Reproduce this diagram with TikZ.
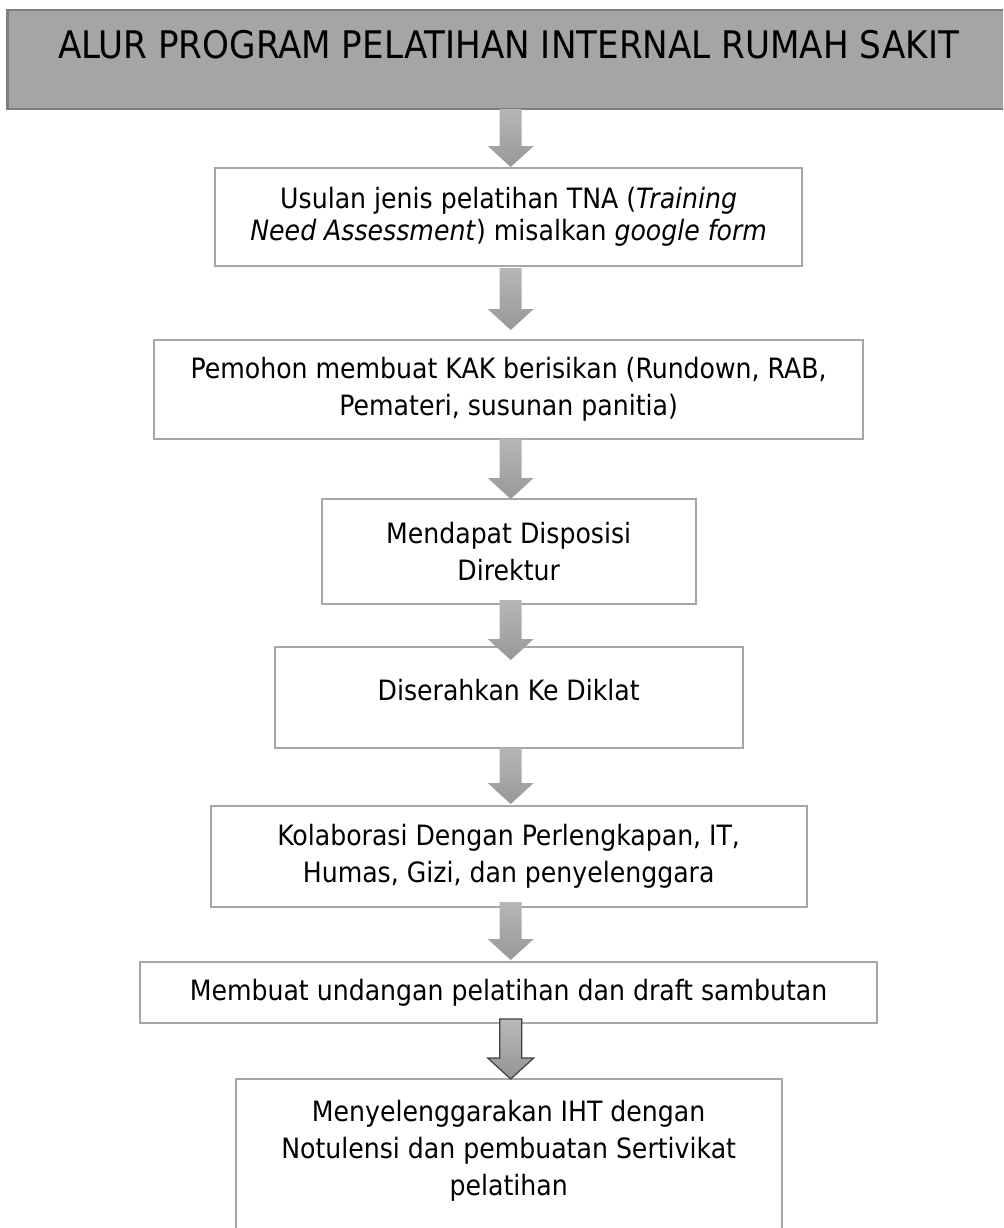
\documentclass[tikz,border=0pt]{standalone}
\usepackage{fontspec}
\setmainfont{DejaVu Sans Condensed}
\usetikzlibrary{positioning,calc}

\definecolor{boxgray}{RGB}{166,166,166}
\definecolor{titlefill}{RGB}{165,165,165}
\definecolor{titleline}{RGB}{127,127,127}
\definecolor{arrtop}{RGB}{182,182,182}
\definecolor{arrbot}{RGB}{152,152,152}
\definecolor{darkline}{RGB}{64,64,64}

\tikzstyle{stepbox} = [rectangle, draw=boxgray, line width=1pt, align=center, inner sep=0pt, outer sep=0pt, font=\fontsize{14}{18.5}\selectfont]
\tikzstyle{titlebox} = [rectangle, fill=titlefill, draw=titleline, line width=1.25pt, inner sep=0pt, outer sep=0pt, font=\fontsize{19}{22}\selectfont, text height=13.5pt, text depth=15pt]
\tikzstyle{fatarrow} = [draw=none, top color=arrtop, bottom color=arrbot,
    to path={let \p1=(\tikztostart), \p2=(\tikztotarget) in
      (\x1-5.5pt,\y1) -- (\x1+5.5pt,\y1) -- (\x1+5.5pt,\y2+10.5pt) -- (\x1+11.5pt,\y2+10.5pt)
      -- (\x1,\y2) -- (\x1-11.5pt,\y2+10.5pt) -- (\x1-5.5pt,\y2+10.5pt) -- cycle}]

\begin{document}
\begin{tikzpicture}
    \useasboundingbox (0,0) rectangle (501.5pt,-614pt);
    \clip (0,0) rectangle (501.5pt,-614pt);

    \node [titlebox, anchor=north west, minimum width=501pt, minimum height=49.5pt] (t) at (3.85pt,-5pt) {ALUR PROGRAM PELATIHAN INTERNAL RUMAH SAKIT};
    \node [stepbox, below=29.5pt of t, minimum width=293.5pt, minimum height=49pt, font=\fontsize{14}{16}\selectfont] (b1) {Usulan jenis pelatihan TNA (\textit{Training}\\ \textit{Need Assessment}) misalkan \textit{google form}};
    \node [stepbox, below=37pt of b1, minimum width=354.5pt, minimum height=49.5pt] (b2) {Pemohon membuat KAK berisikan (Rundown, RAB,\\ Pemateri, susunan panitia)};
    \node [stepbox, below=30pt of b2, minimum width=187pt, minimum height=52.5pt] (b3) {Mendapat Disposisi\\ Direktur};
    \node [stepbox, below=21.5pt of b3, minimum width=234pt, minimum height=50.5pt, text height=10pt, text depth=7.5pt] (b4) {Diserahkan Ke Diklat};
    \node [stepbox, below=29pt of b4, minimum width=298pt, minimum height=50.5pt] (b5) {Kolaborasi Dengan Perlengkapan, IT,\\ Humas, Gizi, dan penyelenggara};
    \node [stepbox, below=27.5pt of b5, minimum width=368.5pt, minimum height=30.5pt] (b6) {Membuat undangan pelatihan dan draft sambutan};
    \node [stepbox, below=28pt of b6, minimum width=273pt, minimum height=87pt] (b7) {Menyelenggarakan IHT dengan\\ Notulensi dan pembuatan Sertivikat\\ pelatihan\\ \mbox{}};

    \path [fatarrow] ([xshift=1pt]t.south) to ([yshift=0.5pt]b1.north);
    \path [fatarrow] ([xshift=1pt, yshift=-1pt]b1.south) to ([yshift=5pt]b2.north);
    \path [fatarrow] ([xshift=1pt]b2.south) to (b3.north);
    \path [fatarrow] ([xshift=1pt, yshift=2pt]b3.south) to ([yshift=-6.5pt]b4.north);
    \path [fatarrow] ([xshift=1pt]b4.south) to ([yshift=1pt]b5.north);
    \path [fatarrow] ([xshift=1pt, yshift=2.5pt]b5.south) to ([yshift=1pt]b6.north);
    \draw [fatarrow, draw=darkline, line width=0.6pt, top color=gray!55, bottom color=gray!95!black!80] ([xshift=1pt, yshift=2pt]b6.south) to (b7.north);
\end{tikzpicture}
\end{document}
